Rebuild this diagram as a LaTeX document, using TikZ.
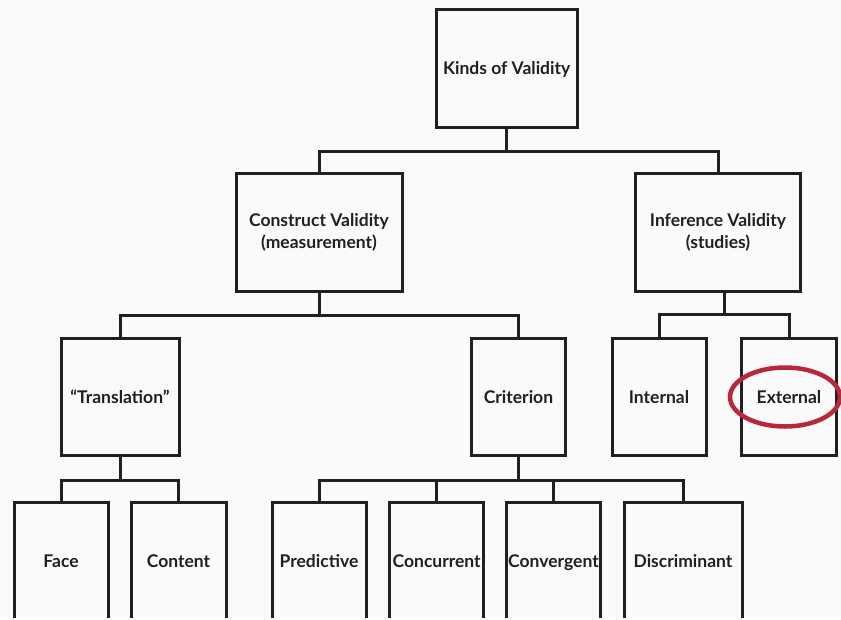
\documentclass[tikz,border=0pt]{standalone}
\usepackage{fontspec}
\setmainfont{Lato}
\usetikzlibrary{calc}
\definecolor{ink}{RGB}{35,31,32}
\definecolor{circlered}{RGB}{183,40,58}
\definecolor{paper}{RGB}{250,250,250}

\begin{document}
\begin{tikzpicture}[
  x=1pt, y=-1pt,
  box/.style={draw=ink, line width=3pt, inner sep=0pt, align=center, text=ink, minimum height=118pt, font=\fontsize{17.5}{22}\selectfont\bfseries},
  leaf/.style={box, text depth=0pt},
  link/.style={draw=ink, line width=3pt},
  highlight/.style={draw=circlered, line width=4.5pt}
]

% Canvas
\useasboundingbox (0,0) rectangle (841,619);
\fill[paper] (0,0) rectangle (841,619);
\clip (0,0) rectangle (841,617.5);

% Top level
\node[leaf, minimum width=141pt] (kinds) at (506.7, 68) {Kinds of Validity};

% Second level
\node[box, minimum width=166pt] (construct) at (319, 232) {Construct Validity\\(measurement)};
\node[box, minimum width=165pt] (inference) at (718, 232) {Inference Validity\\(studies)};

% Third level
\node[leaf, minimum width=118pt, minimum height=117pt] (translation) at (120, 397) {“Translation”};
\node[leaf, minimum width=94pt, minimum height=117pt] (criterion) at (518.5, 397) {Criterion};
\node[leaf, minimum width=94pt, minimum height=117pt] (internal) at (659, 397) {Internal};
\node[leaf, minimum width=95pt, minimum height=117pt] (external) at (789, 397) {External};

% Bottom level
\node[leaf, minimum width=94pt] (face) at (61, 561) {Face};
\node[leaf, minimum width=95pt] (content) at (178.5, 561) {Content};
\node[leaf, minimum width=94pt] (predictive) at (319, 561) {Predictive};
\node[leaf, minimum width=94.5pt] (concurrent) at (436.7, 561) {Concurrent};
\node[leaf, minimum width=94pt] (convergent) at (553.5, 561) {Convergent};
\node[leaf, minimum width=118pt] (discriminant) at (683, 561) {Discriminant};

% Forks
\draw[link] (kinds.south) -- ++(0,23) coordinate (kfork);
\draw[link] (construct.north) |- (kfork) -| (inference.north);

\draw[link] (construct.south) -- ++(0,23) coordinate (cfork);
\draw[link] (translation.north) |- (cfork) -| (criterion.north);

\coordinate (ifork) at ($(internal.north)!.5!(external.north)+(0,-23)$);
\draw[link] (ifork |- inference.south) -- (ifork);
\draw[link] (internal.north) |- (ifork) -| (external.north);

\draw[link] (translation.south) -- ++(0,23) coordinate (tfork);
\draw[link] (face.north) |- (tfork) -| (content.north);

\draw[link] (criterion.south) -- ++(0,23) coordinate (rfork);
\draw[link] (predictive.north) |- (rfork) -| (discriminant.north);
\draw[link] (concurrent.north) -- (concurrent.north |- rfork);
\draw[link] (convergent.north) -- (convergent.north |- rfork);

% Highlight
\draw[highlight] ([xshift=-4pt]external.center) ellipse [x radius=55, y radius=29.5];

\end{tikzpicture}
\end{document}
